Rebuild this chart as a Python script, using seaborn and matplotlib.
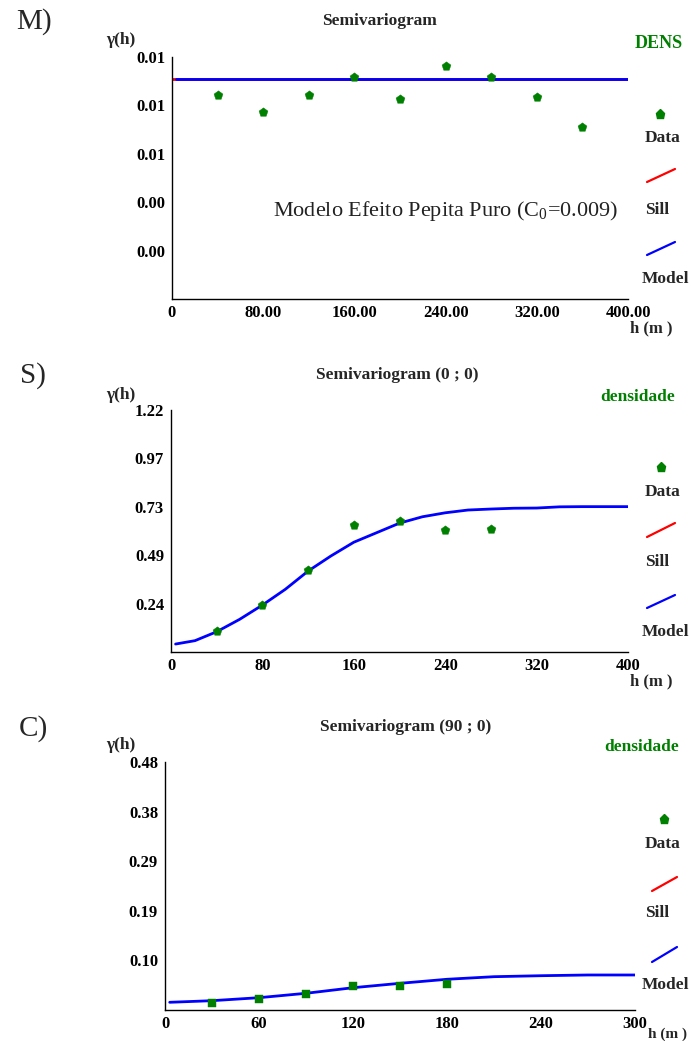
import numpy as np
import pandas as pd
import matplotlib
matplotlib.use("Agg")
import matplotlib.pyplot as plt
import seaborn as sns
from matplotlib.lines import Line2D

# ---------------- data ----------------
# Panel M (DENS) - pure nugget model
m_lag = [40, 80, 120, 160, 200, 240, 280, 320, 360]
m_gamma = [0.00835, 0.00765, 0.00835, 0.00908, 0.00818, 0.00953, 0.00908, 0.00826, 0.00704]
m_sill_h = [0, 400]
m_sill_g = [0.009, 0.009]
m_model_h = [3.5, 400]
m_model_g = [0.009, 0.009]
m_ymax = 0.009914
m_xticks = [0, 80, 160, 240, 320, 400]
m_xticklabels = ["0", "80.00", "160.00", "240.00", "320.00", "400.00"]
m_yticklabels = ["0.00", "0.00", "0.01", "0.01", "0.01"]

# Panel S (densidade, 0;0)
s_lag = [40, 80, 120, 160, 200, 240, 280]
s_gamma = [0.107, 0.235, 0.411, 0.640, 0.660, 0.614, 0.620]
s_model_h = [4, 21, 40, 60, 80, 100, 120, 140, 160, 180, 200, 220, 240, 260, 280, 300, 320, 340, 360, 380, 400]
s_model_g = [0.040, 0.057, 0.102, 0.164, 0.236, 0.315, 0.407, 0.483, 0.552, 0.600, 0.648,
             0.680, 0.700, 0.714, 0.719, 0.723, 0.724, 0.730, 0.731, 0.731, 0.731]
s_ymax = 1.217
s_xticks = [0, 80, 160, 240, 320, 400]
s_xticklabels = ["0", "80", "160", "240", "320", "400"]
s_yticklabels = ["0.24", "0.49", "0.73", "0.97", "1.22"]

# Panel C (densidade, 90;0)
c_lag = [30, 60, 90, 120, 150, 180]
c_gamma = [0.0141, 0.0213, 0.0304, 0.0464, 0.0458, 0.0503]
c_model_h = [3, 30, 60, 90, 120, 150, 180, 210, 240, 270, 300]
c_model_g = [0.0149, 0.0180, 0.0238, 0.0323, 0.0431, 0.0516, 0.0594, 0.0644, 0.0663, 0.0677, 0.0677]
c_ymax = 0.4795
c_xticks = [0, 60, 120, 180, 240, 300]
c_xticklabels = ["0", "60", "120", "180", "240", "300"]
c_yticklabels = ["0.10", "0.19", "0.29", "0.38", "0.48"]

# ---------------- style ----------------
sns.set_theme(style="white")
plt.rcParams["font.family"] = ["Liberation Serif", "DejaVu Serif"]
plt.rcParams["mathtext.fontset"] = "custom"
plt.rcParams["mathtext.rm"] = "Liberation Serif"
plt.rcParams["mathtext.it"] = "Liberation Serif:italic"
plt.rcParams["mathtext.bf"] = "Liberation Serif:bold"

W, H = 691, 1041
fig = plt.figure(figsize=(W / 100, H / 100), dpi=100)
fig.patch.set_facecolor("white")

GREEN = "#008000"
BLUE = "#0000ff"
RED = "#ff0000"
LAB = 12.5
TICK = 12


def fx(x):
    return x / W


def fy(y):
    return 1 - y / H


def make_axes(left, right, top, bottom):
    return fig.add_axes([fx(left), fy(bottom), fx(right) - fx(left), (bottom - top) / H])


def style_axes(ax, xmax, ymax, xticks, xlabels, ylabels):
    ax.set_xlim(0, xmax)
    ax.set_ylim(0, ymax)
    ax.set_xticks(xticks)
    ax.set_xticklabels(xlabels)
    ax.set_yticks(np.linspace(ymax / 5, ymax, 5))
    ax.set_yticklabels(ylabels)
    sns.despine(ax=ax)
    for s in ["left", "bottom"]:
        ax.spines[s].set_color("black")
        ax.spines[s].set_linewidth(1.0)
    ax.tick_params(axis="both", which="major", length=2.5, width=1, color="black",
                   labelsize=TICK, pad=2.5, direction="out")
    ax.tick_params(axis="x", pad=1.5)
    for lab in ax.get_xticklabels() + ax.get_yticklabels():
        lab.set_fontweight("bold")
        lab.set_color("black")
    ax.set_xlabel("")
    ax.set_ylabel("")
    ax.grid(False)
    ax.set_facecolor("white")


def legend_block(x_marker, y_marker, y_data, red_seg, y_sill, blue_seg, y_model):
    fig.add_artist(Line2D([fx(x_marker)], [fy(y_marker)], marker="p", color=GREEN,
                          markersize=6.5, linestyle="none", transform=fig.transFigure))
    fig.text(fx(663), fy(y_data), "Data", ha="center", va="center", fontsize=LAB,
             fontweight="bold")
    (x0, y0, x1, y1) = red_seg
    fig.add_artist(Line2D([fx(x0), fx(x1)], [fy(y0), fy(y1)], color=RED, lw=1.6,
                          transform=fig.transFigure))
    fig.text(fx(645), fy(y_sill), "Sill", ha="left", va="center", fontsize=LAB,
             fontweight="bold")
    (x0, y0, x1, y1) = blue_seg
    fig.add_artist(Line2D([fx(x0), fx(x1)], [fy(y0), fy(y1)], color=BLUE, lw=1.6,
                          transform=fig.transFigure))
    fig.text(fx(665), fy(y_model), "Model", ha="center", va="center", fontsize=LAB,
             fontweight="bold")


# ---------------- Panel M ----------------
axM = make_axes(172, 628, 57, 299)
sns.lineplot(x=m_sill_h, y=m_sill_g, ax=axM, color=RED, lw=2, zorder=2)
sns.lineplot(x=m_model_h, y=m_model_g, ax=axM, color=BLUE, lw=2, zorder=3)
sns.scatterplot(x=m_lag, y=m_gamma, ax=axM, color=GREEN, marker="p", s=45,
                edgecolor=GREEN, linewidth=0.3, zorder=4)
style_axes(axM, 400, m_ymax, m_xticks, m_xticklabels, m_yticklabels)
fig.text(fx(446), fy(211), "Modelo Efeito Pepita Puro (C$_0$=0.009)", ha="center",
         va="center", fontsize=16, color="#222222")
fig.text(fx(34), fy(22), "M)", ha="center", va="center", fontsize=21)
fig.text(fx(379), fy(21), "Semivariogram", ha="center", va="center", fontsize=LAB,
         fontweight="bold")
fig.text(fx(121), fy(40), "γ(h)", ha="center", va="center", fontsize=12.5,
         fontweight="bold")
fig.text(fx(659), fy(43), "DENS", ha="center", va="center", fontsize=13,
         fontweight="bold", color=GREEN)
fig.text(fx(651), fy(328), "h (m )", ha="center", va="center", fontsize=TICK,
         fontweight="bold")
legend_block(660, 114, 138, (647, 182, 675, 169), 210, (647, 255, 675, 242), 279)

# ---------------- Panel S ----------------
axS = make_axes(171, 628, 410, 652)
sns.lineplot(x=s_model_h, y=s_model_g, ax=axS, color=BLUE, lw=2, zorder=3)
sns.scatterplot(x=s_lag, y=s_gamma, ax=axS, color=GREEN, marker="p", s=45,
                edgecolor=GREEN, linewidth=0.3, zorder=4)
style_axes(axS, 400, s_ymax, s_xticks, s_xticklabels, s_yticklabels)
fig.text(fx(33), fy(376), "S)", ha="center", va="center", fontsize=21)
fig.text(fx(397), fy(375), "Semivariogram (0 ; 0)", ha="center", va="center",
         fontsize=LAB, fontweight="bold")
fig.text(fx(121), fy(395), "γ(h)", ha="center", va="center", fontsize=12.5,
         fontweight="bold")
fig.text(fx(638), fy(397), "densidade", ha="center", va="center", fontsize=LAB,
         fontweight="bold", color=GREEN)
fig.text(fx(651), fy(681), "h (m )", ha="center", va="center", fontsize=TICK,
         fontweight="bold")
legend_block(661, 467, 492, (647, 537, 675, 523), 562, (647, 608, 675, 595), 632)

# ---------------- Panel C ----------------
axC = make_axes(165, 635, 762, 1010)
sns.lineplot(x=c_model_h, y=c_model_g, ax=axC, color=BLUE, lw=2, zorder=3)
sns.scatterplot(x=c_lag, y=c_gamma, ax=axC, color=GREEN, marker="s", s=26,
                edgecolor=GREEN, linewidth=0.3, zorder=4)
style_axes(axC, 300, c_ymax, c_xticks, c_xticklabels, c_yticklabels)
fig.text(fx(33), fy(729), "C)", ha="center", va="center", fontsize=21)
fig.text(fx(406), fy(727), "Semivariogram (90 ; 0)", ha="center", va="center",
         fontsize=LAB, fontweight="bold")
fig.text(fx(121), fy(745), "γ(h)", ha="center", va="center", fontsize=12.5,
         fontweight="bold")
fig.text(fx(642), fy(747), "densidade", ha="center", va="center", fontsize=LAB,
         fontweight="bold", color=GREEN)
fig.text(fx(648), fy(1034), "h (m )", ha="left", va="center", fontsize=11,
         fontweight="bold")
legend_block(664, 819, 844, (652, 891, 677, 877), 913, (652, 962, 677, 947), 985)

fig.savefig("out.png", dpi=100, facecolor="white")
